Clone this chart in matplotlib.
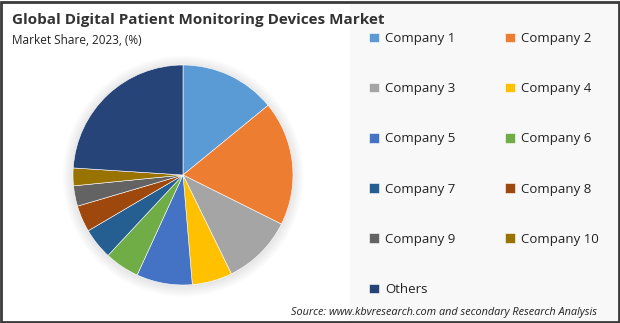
import matplotlib
matplotlib.use("Agg")
import matplotlib.pyplot as plt
from matplotlib.patches import Rectangle, Circle

categories = ["Company 1", "Company 2", "Company 3", "Company 4", "Company 5",
              "Company 6", "Company 7", "Company 8", "Company 9", "Company 10", "Others"]
shares = [14.1, 18.3, 10.4, 5.9, 8.2, 5.1, 4.6, 3.9, 3.0, 2.6, 24.0]
colors = ["#5B9BD5", "#ED7D31", "#A5A5A5", "#FFC000", "#4472C4", "#70AD47",
          "#255E91", "#9E480E", "#636363", "#997300", "#264478"]

title = "Global Digital Patient Monitoring Devices Market"
subtitle = "Market Share, 2023, (%)"
source = "Source: www.kbvresearch.com and secondary Research Analysis"

W, H = 620, 323
fig = plt.figure(figsize=(W / 100, H / 100), dpi=100)
fig.patch.set_facecolor("white")

# right legend panel background
fig.patches.append(Rectangle((350 / W, 0), 270 / W, 1, transform=fig.transFigure,
                             facecolor="#f8f8f8", edgecolor="none", zorder=0))
# border
fig.patches.append(Rectangle((0.5 / W, 1 / H), (W - 2) / W, (H - 2.5) / H, transform=fig.transFigure,
                             facecolor="none", edgecolor="#3a3a3a", linewidth=2, zorder=10))

cx, cy, r = 183, 323 - 175, 110
ax = fig.add_axes([(cx - r) / W, (cy - r) / H, 2 * r / W, 2 * r / H])

wedges, _ = ax.pie(shares, colors=colors, startangle=90, counterclock=False, radius=1.0,
                   wedgeprops=dict(edgecolor="white", linewidth=0.4))
for w in wedges:
    w.set_zorder(2)

# soft shadow
for i in range(8):
    ax.add_patch(Circle((0.0, -0.01), 1.0 + 0.012 * (i + 1), facecolor="black",
                        alpha=0.012, edgecolor="none", zorder=0, clip_on=False))

ax.set_xlim(-1, 1)
ax.set_ylim(-1, 1)
ax.set_aspect("equal")
ax.axis("off")

fig.text(12 / W, 1 - 20 / H, title, fontsize=11.0, fontweight="bold", color="#333333",
         family="Open Sans", va="center", ha="left")
fig.text(12 / W, 1 - 40 / H, subtitle, fontsize=8.5, color="#222222",
         family="Open Sans", va="center", ha="left")
fig.text(597 / W, 1 - 312 / H, source, fontsize=7.8, style="italic", color="#222222",
         family="Open Sans", va="center", ha="right")

order = [0, 2, 4, 6, 8, 10, 1, 3, 5, 7, 9]
handles = [wedges[i] for i in order]
labels = [categories[i] for i in order]
leg = fig.legend(handles, labels, ncol=2, loc="upper left",
                 bbox_to_anchor=(369 / W, 1 - 32 / H), frameon=False,
                 prop=dict(family="Open Sans", size=9.5), labelspacing=2.82,
                 handlelength=0.75, handleheight=0.75, handletextpad=0.45,
                 columnspacing=3.8, borderaxespad=0, borderpad=0)
for t in leg.get_texts():
    t.set_color("#222222")

fig.savefig("out.png", dpi=100)
